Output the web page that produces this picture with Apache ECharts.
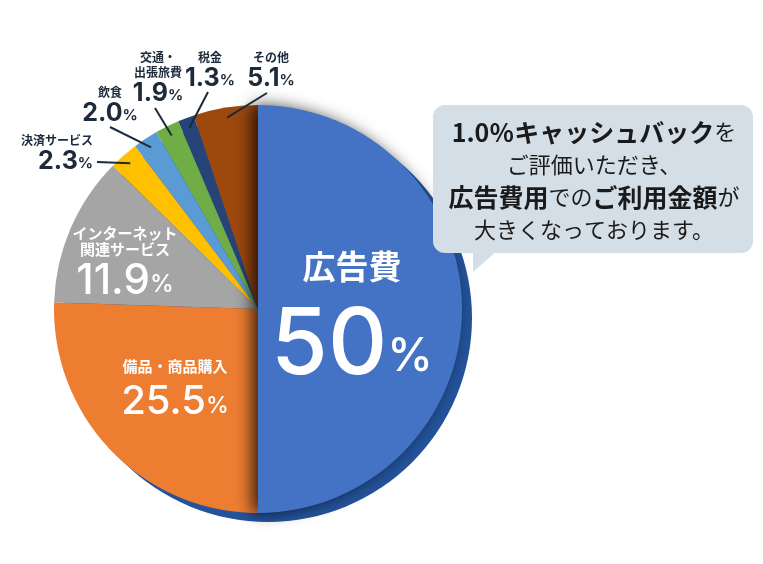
<!DOCTYPE html>
<html><head><meta charset="utf-8">
<script src="https://cdn.jsdelivr.net/npm/echarts@6/dist/echarts.min.js"></script>
<style>html,body{margin:0;padding:0;background:#fff}#c{width:763px;height:564px}</style>
</head><body><div id="c"></div>
<script>
// ---- data ----
const categories = ['広告費', '備品・商品購入', 'インターネット\n関連サービス', '決済サービス', '飲食', '交通・\n出張旅費', '税金', 'その他'];
const values = [50, 25.5, 11.9, 2.3, 2.0, 1.9, 1.3, 5.1];
const colors = ['#4472C4', '#ED7D31', '#A5A5A5', '#FFC000', '#5B9BD5', '#70AD47', '#264478', '#9E480E'];
const bubbleLines = [
  [['b', '1.0％キャッシュバック'], ['r', 'を']],
  [['r', 'ご評価いただき、']],
  [['b', '広告費用'], ['r', 'での'], ['b', 'ご利用金額'], ['r', 'が']],
  [['r', '大きくなっております。']]
];

// ---- layout (positions / styles) ----
const CX = 258, CY = 309, R = 204;
const labelBoxes = [ // [x, top, align, styleGroup]
  [352, 246, 'center', 'A'],
  [175, 357, 'center', 'B'],
  [125, 226, 'center', 'C'],
  [93, 133, 'right', 'D'],
  [110, 85, 'center', 'D'],
  [158, 50, 'center', 'D'],
  [210, 50, 'center', 'D'],
  [271, 50, 'center', 'D']
];
const leaderEnds = [null, null, null, [97, 162], [110, 127], [155, 108], [208, 92], [267, 93]];
const JP = '"Noto Sans CJK JP", sans-serif';
const NUM = 'Inter, "Noto Sans CJK JP", sans-serif';
const DARK = '#1C2A39';
function group(key, nF, nLH, vF, vLH, pF, color, weight) {
  const o = {};
  o['n' + key] = { fontFamily: JP, fontSize: nF, lineHeight: nLH, fontWeight: 'bold', color: color };
  o['v' + key] = { fontFamily: NUM, fontSize: vF, lineHeight: vLH, fontWeight: weight, color: color, verticalAlign: 'bottom' };
  o['p' + key] = { fontFamily: NUM, fontSize: pF, fontWeight: weight, color: color, verticalAlign: 'bottom',
    padding: [0, 0, Math.round(0.25 * (vF - pF)), 0] };
  return o;
}
const rich = Object.assign({},
  group('A', 33, 40, 92, 106, 46, '#fff', 500),
  group('B', 15, 18, 40, 47, 23, '#fff', 500),
  group('C', 15, 15.5, 42, 45, 24, '#fff', 500),
  group('D', 12, 15, 25, 26, 15, DARK, 'bold')
);
function valueText(v) { return v >= 50 ? String(v) : v.toFixed(1); }
function labelText(i) {
  const g = labelBoxes[i][3];
  return categories[i].split('\n').map(s => '{n' + g + '|' + s + '}').join('\n') +
    '\n{v' + g + '|' + valueText(values[i]) + '}{p' + g + '|%}';
}
// drawn counter-clockwise from the top so that 広告費 is painted last (its shadow lies on the others)
const orderCCW = values.map((_, i) => i).reverse();

const chart = echarts.init(document.getElementById('c'), null, { renderer: 'canvas' });

const bubbleRich = {
  b: { fontFamily: JP, fontWeight: 'bold', fontSize: 25, fill: '#1a1a1a' },
  r: { fontFamily: JP, fontWeight: 'normal', fontSize: 22, fill: '#1a1a1a' }
};
const bubbleY = [132, 165, 197, 230];
const graphics = [
  { type: 'rect', z: 10, shape: { x: 433, y: 105, width: 320, height: 148, r: 12 }, style: { fill: '#D3DEE6' } },
  { type: 'polygon', z: 10, shape: { points: [[473, 250], [498, 250], [473, 272]] }, style: { fill: '#D3DEE6' } }
].concat(bubbleLines.map((ln, k) => ({
  type: 'text', z: 11, x: 594, y: bubbleY[k],
  style: { text: ln.map(t => '{' + t[0] + '|' + t[1] + '}').join(''), rich: bubbleRich, align: 'center', verticalAlign: 'middle' }
})));

chart.setOption({
  animation: false,
  backgroundColor: '#fff',
  graphic: graphics,
  series: [
    {
      type: 'pie', center: [CX + 10, CY + 9], radius: R, silent: true, z: 1,
      label: { show: false }, labelLine: { show: false },
      data: [{ value: values.reduce((a, b) => a + b, 0), itemStyle: { color: '#24539B' } }]
    },
    {
      type: 'pie', center: [CX, CY], radius: R, startAngle: 90, clockwise: false, z: 2,
      avoidLabelOverlap: false, silent: true,
      labelLine: { show: false },
      data: orderCCW.map(i => ({
        value: values[i], name: categories[i],
        itemStyle: i === 0
          ? { color: colors[i], shadowBlur: 16, shadowColor: 'rgba(0,0,0,0.75)', shadowOffsetX: -6 }
          : { color: colors[i] },
        label: { show: true, position: 'inside', formatter: labelText(i), rich: rich }
      })),
      labelLayout: function (p) {
        const b = labelBoxes[orderCCW[p.dataIndex]];
        return { x: b[0], y: b[1], align: b[2], verticalAlign: 'top' };
      }
    }
  ]
});

// leader lines from inside each small slice (angle taken from the pie's own layout) to its label
(function () {
  let data = null;
  try { data = chart.getModel().getSeriesByIndex(1).getData(); } catch (e) { data = null; }
  const total = values.reduce((a, b) => a + b, 0);
  const lines = [];
  orderCCW.forEach((i, di) => {
    const e = leaderEnds[i];
    if (!e) return;
    let x, y;
    const L = data && data.getItemLayout(di);
    if (L && L.startAngle != null) {
      const mid = (L.startAngle + L.endAngle) / 2;
      x = L.cx + L.r * 0.95 * Math.cos(mid);
      y = L.cy + L.r * 0.95 * Math.sin(mid);
    } else {
      let cum = 0;
      for (let k = 0; k < i; k++) cum += values[k];
      const t = (cum + values[i] / 2) / total * 2 * Math.PI;
      x = CX + R * 0.95 * Math.sin(t);
      y = CY - R * 0.95 * Math.cos(t);
    }
    lines.push({ type: 'line', z: 10, shape: { x1: x, y1: y, x2: e[0], y2: e[1] }, style: { stroke: DARK, lineWidth: 2 } });
  });
  chart.setOption({ graphic: graphics.concat(lines) });
})();
</script></body></html>
